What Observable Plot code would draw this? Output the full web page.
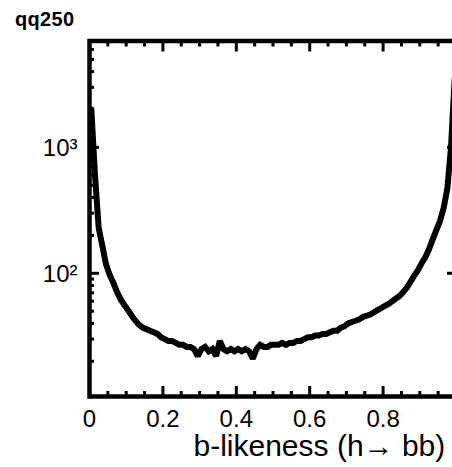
<!DOCTYPE html>
<html>
<head>
<meta charset="utf-8">
<script src="https://cdn.jsdelivr.net/npm/d3@7"></script>
<script src="https://cdn.jsdelivr.net/npm/@observablehq/plot@0.6"></script>
<style>
  html, body { margin: 0; padding: 0; background: white; overflow: hidden; }
  #wrap { position: relative; width: 452px; height: 467px; overflow: hidden; }
  #title { position: absolute; left: 15px; top: 7px; font-family: "Liberation Sans", Arial, sans-serif; font-weight: bold; font-size: 20px; letter-spacing: 0.3px; color: #000; line-height: 24px; }
  svg { max-width: none !important; }
</style>
</head>
<body>
<div id="wrap"><div id="title">qq250</div></div>
<script>
const title = "qq250";
const xLabel = "b-likeness (h\u2192 bb)";
const binWidth = 0.01;
// event counts per bin (100 bins on [0,1])
const counts = [
  2000, 600, 230, 165, 118, 97, 84, 71, 62, 56,
  51, 46, 42, 39, 37, 36, 35, 34, 33, 31,
  30, 29, 29, 28, 27, 27, 26, 26, 25, 22,
  25, 26, 24, 25, 22, 29, 25, 24, 25, 24,
  25, 24, 25, 24, 21, 25, 27, 26, 26, 27,
  27, 27, 28, 27, 28, 28, 29, 29, 30, 31,
  31, 32, 32, 33, 33, 34, 35, 35, 37, 38,
  40, 41, 42, 43, 45, 46, 47, 49, 51, 53,
  55, 57, 60, 63, 66, 71, 77, 86, 96, 106,
  120, 134, 155, 185, 220, 260, 330, 470, 1000, 3500
];
const xMajor = [0, 0.2, 0.4, 0.6, 0.8, 1];
const xLabelTicks = [0, 0.2, 0.4, 0.6, 0.8];
const xMinor = [0.05, 0.1, 0.15, 0.25, 0.3, 0.35, 0.45, 0.5, 0.55, 0.65, 0.7, 0.75, 0.85, 0.9, 0.95];
const yMajor = [100, 1000];
const yMinor = [20, 30, 40, 50, 60, 70, 80, 90, 200, 300, 400, 500, 600, 700, 800, 900, 2000, 3000, 4000, 5000, 6000];
const yDomain = [10.5, 7000];
const sup = {2: "\u00b2", 3: "\u00b3"};

const bins = counts.map((v, i) => ({x: (i + 0.5) * binWidth, v}));
const font = "'Liberation Sans', Arial, sans-serif";

const ax = (anchor, ticks, size) => Plot.axisX(ticks, {anchor, tickSize: -size, tickFormat: () => "", label: null, strokeWidth: 3});
const ay = (anchor, ticks, size) => Plot.axisY(ticks, {anchor, tickSize: -size, tickFormat: () => "", label: null, strokeWidth: 3});

const chart = Plot.plot({
  width: 462,
  height: 467,
  marginLeft: 89,
  marginRight: 6,
  marginTop: 40.5,
  marginBottom: 71,
  x: {domain: [0, 1]},
  y: {type: "log", domain: yDomain},
  style: {fontFamily: font, background: "white", color: "black", overflow: "visible"},
  marks: [
    ax("bottom", xMinor, 5), ax("top", xMinor, 5),
    ax("bottom", xMajor, 10), ax("top", xMajor, 10),
    ay("left", yMinor, 5), ay("right", yMinor, 5),
    ay("left", yMajor, 10), ay("right", yMajor, 10),
    Plot.axisX(xLabelTicks, {anchor: "bottom", tickSize: 0, tickPadding: 13, fontSize: 24, label: null, tickFormat: d => d === 0 ? "0" : d3.format(".1f")(d)}),
    Plot.axisY(yMajor, {anchor: "left", tickSize: 0, tickPadding: 12, fontSize: 24, label: null, dy: 1, tickFormat: d => "10" + sup[Math.round(Math.log10(d))]}),
    Plot.line(bins, {x: "x", y: "v", curve: "linear", stroke: "black", strokeWidth: 6, strokeLinejoin: "miter", strokeMiterlimit: 2}),
    Plot.frame({stroke: "black", strokeWidth: 4.5}),
    Plot.text([xLabel], {frameAnchor: "bottom-left", textAnchor: "start", lineAnchor: "middle", dx: 104, dy: 50, fontSize: 30})
  ]
});
document.getElementById("wrap").appendChild(chart);
</script>
</body>
</html>
